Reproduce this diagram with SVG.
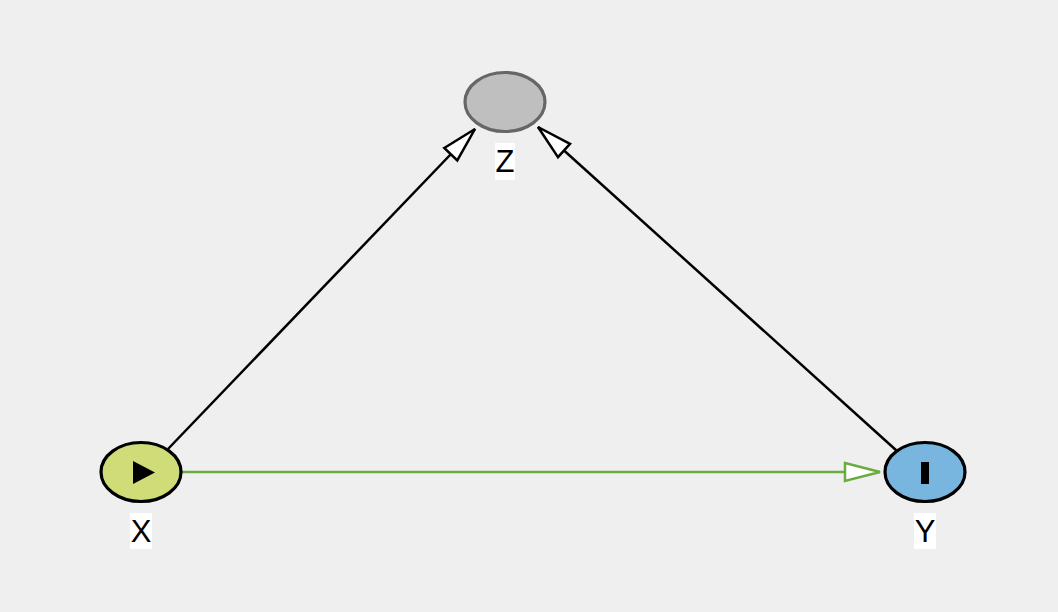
<svg xmlns="http://www.w3.org/2000/svg" width="1058" height="612" viewBox="0 0 1058 612">
<style>
.node ellipse{stroke-width:3.2}
.lbl{font-family:"Liberation Sans",Arial,sans-serif;font-size:31px;text-anchor:middle;fill:#000}
.lblbg{fill:#ffffff}
.edge{fill:none;stroke-width:2.5}
</style>
<defs>
<marker id="ah" markerUnits="userSpaceOnUse" markerWidth="40" markerHeight="24" viewBox="-2 -12 40 24" refX="35" refY="0" orient="auto">
<path d="M0,-9 L35,0 L0,9 Z" fill="#ffffff" stroke="#000000" stroke-width="2.5"/>
</marker>
<marker id="ahg" markerUnits="userSpaceOnUse" markerWidth="40" markerHeight="24" viewBox="-2 -12 40 24" refX="35" refY="0" orient="auto">
<path d="M0,-9 L35,0 L0,9 Z" fill="#ffffff" stroke="#6aac3f" stroke-width="2.5"/>
</marker>
</defs>
<rect width="1058" height="612" fill="#efefef"/>
<g id="connectors">
<line class="edge" x1="168" y1="449" x2="475" y2="129" stroke="#000" marker-end="url(#ah)"/>
<line class="edge" x1="897" y1="451" x2="538" y2="127" stroke="#000" marker-end="url(#ah)"/>
<line class="edge" x1="182" y1="472" x2="880" y2="472" stroke="#6aac3f" marker-end="url(#ahg)"/>
</g>
<g id="node-Z" class="node">
<ellipse cx="505" cy="102" rx="40" ry="29.5" fill="#bfbfbf" stroke="#666666"/>
<rect class="lblbg" x="495" y="143" width="20" height="37"/>
<text class="lbl" x="505" y="172">Z</text>
</g>
<g id="node-X" class="node">
<ellipse cx="141" cy="472" rx="40" ry="29.5" fill="#d0dc78" stroke="#000"/>
<polygon points="133,461 133,484 155,472.5" fill="#000"/>
<rect class="lblbg" x="130" y="513" width="22" height="36"/>
<text class="lbl" x="141" y="542">X</text>
</g>
<g id="node-Y" class="node">
<ellipse cx="925" cy="472" rx="40" ry="29.5" fill="#78b6e0" stroke="#000"/>
<rect x="921" y="462" width="8" height="22" fill="#000"/>
<rect class="lblbg" x="914" y="513" width="22" height="36"/>
<text class="lbl" x="925" y="542">Y</text>
</g>
</svg>
